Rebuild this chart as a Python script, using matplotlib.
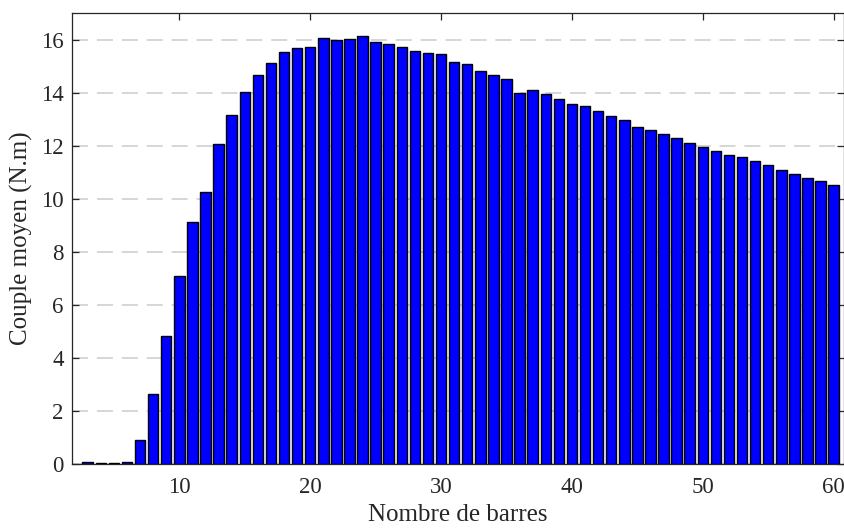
import numpy as np
import matplotlib.pyplot as plt

plt.rcParams['font.family'] = ['Liberation Serif', 'DejaVu Serif']

# number of bars and mean torque
nb_barres = np.arange(3, 61)
couple_moyen = [
    0.09, 0.05, 0.02, 0.06, 0.92, 2.63, 4.84, 7.10, 9.11, 10.25,
    12.07, 13.14, 14.01, 14.68, 15.12, 15.52, 15.68, 15.72, 16.05, 15.99,
    16.03, 16.12, 15.90, 15.83, 15.73, 15.55, 15.50, 15.44, 15.15, 15.08,
    14.81, 14.68, 14.50, 13.98, 14.10, 13.96, 13.76, 13.56, 13.48, 13.31,
    13.12, 12.97, 12.71, 12.58, 12.43, 12.28, 12.11, 11.95, 11.81, 11.65,
    11.56, 11.41, 11.27, 11.09, 10.94, 10.78, 10.68, 10.53,
]
x_ticks = [10, 20, 30, 40, 50, 60]
y_ticks = [0, 2, 4, 6, 8, 10, 12, 14, 16]

dark = '#262626'

fig = plt.figure(figsize=(8.45, 5.28), dpi=100)
ax = fig.add_axes([0.0852, 0.1212, 0.9138, 0.8542])

ax.bar(nb_barres, couple_moyen, width=0.8, color=(0, 0, 1),
       edgecolor='black', linewidth=1.0, zorder=3)

ax.set_xlim(1.8, 60.8)
ax.set_ylim(0, 17)
ax.set_xticks(x_ticks)
ax.set_yticks(y_ticks)

ax.yaxis.grid(True, linestyle=(0, (10.5, 5.8)), color='#cccccc', linewidth=1.1, zorder=0)
ax.set_axisbelow(True)

ax.tick_params(direction='in', length=5, width=0.9, colors=dark,
               labelsize=16.5, top=True, right=True, pad=6)
ax.tick_params(axis='x', pad=9)
for s in ax.spines.values():
    s.set_color(dark)
    s.set_linewidth(0.9)

ax.set_xlabel('Nombre de barres', fontsize=18, color=dark, labelpad=5)
ax.set_ylabel('Couple moyen (N.m)', fontsize=18, color=dark, labelpad=6)

fig.savefig('out.png', dpi=100)
